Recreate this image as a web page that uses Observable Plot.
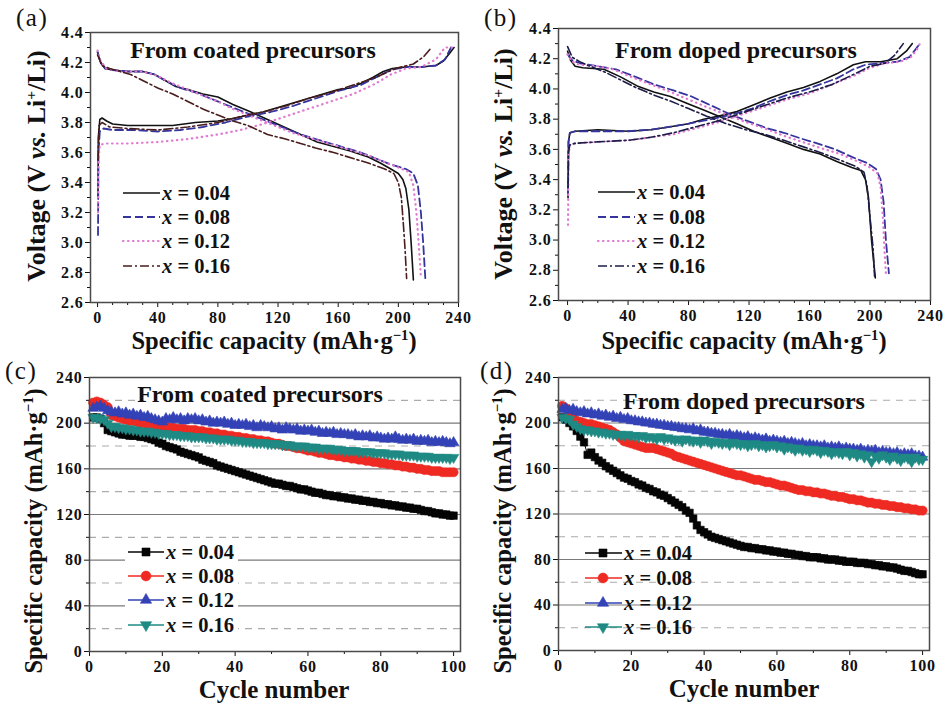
<!DOCTYPE html>
<html><head><meta charset="utf-8">
<script src="https://cdn.jsdelivr.net/npm/d3@7"></script>
<script src="https://cdn.jsdelivr.net/npm/@observablehq/plot@0.6"></script>
<style>
html,body{margin:0;padding:0;background:#fff;}
#fig{position:relative;width:944px;height:705px;overflow:hidden;background:#fff;}
.panel{position:absolute;}
</style></head><body><div id="fig"></div>
<script>
// ---------------- data ----------------
const seriesNames = ["0.04", "0.08", "0.12", "0.16"];

// Panel (a): coated precursors, [capacity, voltage]
const a04Charge = [[0.3,3.30],[0.5,3.70],[1.5,3.82],[3,3.83],[6,3.81],[10,3.79],[20,3.78],[35,3.78],[50,3.78],[65,3.80],[80,3.81],[92,3.83],[100,3.85],[110,3.87],[120,3.90],[130,3.93],[140,3.96],[150,3.99],[160,4.02],[168,4.03],[175,4.06],[183,4.10],[190,4.14],[196,4.16],[205,4.17],[215,4.17],[225,4.18],[230,4.21],[234,4.26],[237,4.30]];
const a08Charge = [[0.3,3.05],[0.6,3.60],[1.5,3.74],[4,3.76],[10,3.75],[25,3.75],[40,3.74],[55,3.75],[70,3.77],[85,3.80],[100,3.84],[115,3.87],[130,3.91],[145,3.96],[160,4.01],[175,4.05],[185,4.10],[195,4.15],[205,4.17],[215,4.17],[225,4.18],[231,4.22],[235,4.30]];
const a12Charge = [[0.3,3.20],[0.6,3.55],[1.5,3.65],[5,3.66],[20,3.66],[40,3.67],[60,3.69],[80,3.72],[95,3.75],[110,3.79],[125,3.84],[140,3.89],[155,3.94],[170,3.99],[185,4.06],[195,4.12],[205,4.16],[215,4.17],[225,4.22],[231,4.30],[236,4.30]];
const a16Charge = [[0.3,3.55],[1,3.78],[3,3.80],[8,3.77],[20,3.76],[40,3.75],[60,3.77],[80,3.80],[95,3.84],[110,3.87],[125,3.91],[140,3.96],[155,4.00],[170,4.05],[185,4.10],[198,4.16],[210,4.19],[217,4.24],[222,4.30]];
const a04Discharge = [[0,4.27],[2,4.20],[5,4.16],[10,4.15],[20,4.14],[30,4.14],[38,4.12],[45,4.08],[52,4.04],[60,4.02],[70,3.99],[80,3.97],[90,3.92],[102,3.87],[113,3.82],[124,3.77],[135,3.72],[146,3.67],[157,3.64],[168,3.61],[180,3.57],[188,3.53],[195,3.49],[200,3.46],[203,3.42],[205,3.36],[207,3.22],[208.5,3.00],[210,2.75]];
const a08Discharge = [[0,4.27],[2,4.20],[5,4.16],[10,4.15],[20,4.14],[30,4.14],[38,4.12],[45,4.08],[55,4.03],[65,4.00],[75,3.96],[85,3.92],[95,3.88],[105,3.84],[115,3.80],[125,3.76],[135,3.72],[145,3.69],[155,3.66],[165,3.63],[175,3.60],[185,3.56],[195,3.52],[205,3.49],[210,3.46],[213,3.38],[215,3.20],[216.5,3.00],[218,2.75]];
const a12Discharge = [[0,4.28],[2,4.21],[6,4.16],[15,4.14],[30,4.14],[40,4.11],[50,4.06],[60,4.02],[70,3.98],[80,3.94],[90,3.89],[100,3.85],[110,3.81],[120,3.77],[130,3.73],[140,3.70],[150,3.67],[160,3.64],[170,3.61],[180,3.58],[190,3.54],[200,3.50],[207,3.47],[210,3.38],[212,3.20],[213.5,3.00],[215,2.77]];
const a16Discharge = [[0,4.25],[3,4.18],[8,4.16],[15,4.14],[22,4.12],[30,4.08],[40,4.03],[50,3.99],[60,3.94],[70,3.89],[80,3.85],[90,3.81],[100,3.78],[113,3.72],[125,3.69],[135,3.66],[145,3.63],[157,3.60],[170,3.56],[180,3.53],[191,3.49],[197,3.46],[200,3.40],[202,3.30],[203.5,3.10],[204.5,2.95],[205.5,2.76]];

// Panel (b): doped precursors, [capacity, voltage]
const b04Charge = [[0.3,3.28],[0.6,3.65],[1.5,3.71],[5,3.72],[20,3.73],[40,3.72],[55,3.73],[68,3.75],[80,3.77],[90,3.80],[100,3.82],[112,3.85],[122,3.89],[134,3.94],[145,3.98],[156,4.01],[167,4.05],[178,4.10],[189,4.16],[197,4.18],[207,4.18],[218,4.20],[224,4.25],[228,4.30]];
const b08Charge = [[0.3,3.30],[0.6,3.65],[1.5,3.71],[5,3.72],[20,3.72],[40,3.72],[55,3.73],[68,3.75],[80,3.77],[90,3.79],[100,3.81],[112,3.84],[122,3.87],[134,3.92],[145,3.96],[156,3.99],[167,4.03],[178,4.07],[189,4.13],[197,4.16],[207,4.17],[218,4.18],[226,4.21],[230,4.26],[233,4.30]];
const b12Charge = [[0.3,3.10],[0.6,3.55],[1.5,3.63],[5,3.64],[20,3.65],[40,3.66],[55,3.68],[70,3.70],[85,3.74],[100,3.78],[115,3.83],[130,3.88],[145,3.93],[160,3.97],[175,4.03],[190,4.09],[200,4.14],[210,4.17],[220,4.18],[227,4.21],[231,4.26],[233,4.30]];
const b16Charge = [[0.3,3.35],[0.6,3.58],[1.5,3.63],[5,3.64],[20,3.65],[40,3.66],[55,3.68],[70,3.71],[85,3.75],[100,3.79],[115,3.84],[130,3.89],[145,3.94],[160,3.98],[175,4.03],[190,4.10],[200,4.15],[210,4.17],[216,4.22],[222,4.30]];
const b04Discharge = [[0,4.25],[2,4.19],[5,4.15],[10,4.14],[24,4.13],[35,4.08],[46,4.02],[57,3.98],[68,3.95],[80,3.90],[90,3.86],[100,3.82],[112,3.77],[123,3.72],[134,3.68],[145,3.64],[156,3.60],[167,3.57],[178,3.52],[188,3.48],[194,3.46],[197,3.40],[199,3.28],[201,3.00],[203.5,2.75]];
const b08Discharge = [[0,4.23],[3,4.19],[8,4.17],[20,4.15],[32,4.13],[45,4.08],[57,4.03],[70,3.99],[82,3.95],[95,3.89],[108,3.83],[121,3.78],[132,3.74],[143,3.71],[155,3.67],[165,3.64],[177,3.60],[188,3.55],[198,3.51],[204,3.47],[207,3.40],[209,3.25],[210.5,3.00],[212.5,2.78]];
const b12Discharge = [[0,4.23],[3,4.18],[8,4.16],[20,4.15],[30,4.13],[42,4.08],[55,4.03],[68,3.98],[80,3.93],[92,3.88],[105,3.83],[118,3.78],[130,3.74],[143,3.69],[155,3.65],[167,3.61],[180,3.57],[192,3.52],[200,3.48],[205,3.44],[207,3.35],[208.5,3.15],[209.5,2.95],[210.5,2.78]];
const b16Discharge = [[0,4.28],[3,4.21],[8,4.18],[15,4.15],[25,4.11],[35,4.06],[45,4.01],[57,3.96],[68,3.92],[80,3.87],[92,3.82],[105,3.77],[118,3.73],[130,3.70],[143,3.66],[155,3.62],[167,3.58],[180,3.53],[190,3.49],[196,3.45],[198,3.36],[200,3.15],[202,2.95],[203,2.76]];

// Panels (c), (d): capacity per cycle 1..100
const c04 = [205,205,204,200,194,193,192,191,190,190,189,189,189,188,188,187,186,185,183,182,180,179,178,177,175,174,173,172,171,170,168,167,166,165,163,162,161,160,159,158,157,156,155,154,153,152,151,150,149,148,147,147,146,145,145,144,143,142,142,141,140,139,139,138,137,137,136,136,135,135,134,134,133,133,132,132,131,131,130,130,129,129,128,128,127,127,126,126,125,125,124,123,123,122,121,121,120,120,119,119];
const c08 = [218,219,218,216,214,207,206,205,204,203,202,202,201,200,200,199,199,198,198,197,197,196,196,195,195,195,194,194,194,193,193,192,192,191,191,190,190,189,189,188,188,187,187,186,186,185,185,184,184,183,182,182,181,180,180,179,178,178,177,176,176,175,174,174,173,172,172,171,171,170,170,169,169,168,168,167,167,166,166,165,165,164,164,163,163,162,162,161,161,160,160,159,159,158,158,158,157,157,157,157];
const c12 = [213,214,215,213,211,210,209,210,208,209,207,208,206,207,205,206,204,203,202,201,204,203,205,203,204,202,204,203,204,202,203,201,202,200,201,200,201,199,200,198,199,198,199,197,198,196,198,197,196,197,195,196,194,196,195,194,195,193,194,193,194,192,193,191,192,191,192,190,191,190,190,189,190,188,189,188,189,187,188,187,186,187,186,188,186,185,186,185,186,184,185,184,185,183,184,183,184,183,182,183];
const c16 = [205,205,204,203,200,197,197,196,196,195,195,194,194,193,193,193,192,192,191,191,191,190,190,190,189,189,189,188,188,188,188,187,187,187,186,186,186,186,185,185,185,184,184,184,183,183,183,183,182,182,182,182,181,181,181,180,180,180,180,179,179,179,178,178,178,178,177,177,177,176,176,176,176,175,175,175,175,174,174,174,174,173,173,173,173,172,172,172,172,171,171,171,171,170,170,170,170,170,169,170];
const d04 = [205,203,200,197,193,188,183,172,174,170,167,165,162,160,158,156,154,152,151,149,148,146,145,143,142,140,139,137,136,134,132,130,128,126,123,121,116,110,106,104,102,100,99,98,97,96,95,94,93,92,91,91,90,90,89,89,88,88,87,87,86,86,85,85,84,84,83,83,82,82,82,81,81,80,80,80,79,79,78,78,78,77,77,77,76,76,75,75,74,74,73,73,72,71,70,70,69,68,67,67];
const d08 = [215,213,208,204,202,201,200,199,199,198,197,196,195,194,192,190,187,184,183,182,181,180,179,178,178,178,177,176,175,174,173,171,170,169,168,167,166,165,164,163,162,161,160,159,158,157,156,155,154,154,153,152,151,150,150,149,148,148,147,146,145,145,144,143,142,141,141,140,140,139,139,138,138,137,136,136,135,135,134,133,133,132,132,131,130,130,129,129,128,128,127,127,126,126,125,125,124,124,123,123];
const d12 = [212,213,211,212,210,209,210,208,209,207,208,206,207,205,206,204,205,203,204,202,202,201,201,200,200,199,199,198,198,197,197,196,196,195,195,194,195,193,194,192,192,191,191,190,190,189,190,188,189,188,187,188,186,187,186,185,186,184,185,184,183,184,182,183,182,181,182,180,181,180,180,179,180,178,179,178,179,177,178,177,177,176,177,175,176,175,176,174,175,174,174,173,174,172,173,172,173,171,171,170];
const d16 = [205,204,203,199,197,195,194,194,193,193,192,192,191,191,190,190,190,189,190,189,189,188,189,187,188,187,186,188,186,187,186,185,186,184,186,185,184,185,183,185,184,182,184,183,182,183,181,183,182,181,182,180,181,182,180,181,179,180,181,179,180,177,179,178,176,178,176,177,175,177,176,174,176,175,173,175,174,173,175,172,174,171,173,170,172,166,171,169,172,170,168,171,169,167,170,169,166,170,168,168];

// axes ticks
const aXTicks = [0, 40, 80, 120, 160, 200, 240];
const aXMinor = [10, 20, 30, 50, 60, 70, 90, 100, 110, 130, 140, 150, 170, 180, 190, 210, 220, 230];
const aYTicks = [2.6, 2.8, 3.0, 3.2, 3.4, 3.6, 3.8, 4.0, 4.2, 4.4];
const aYMinor = [2.7, 2.9, 3.1, 3.3, 3.5, 3.7, 3.9, 4.1, 4.3];
const cXTicks = [0, 20, 40, 60, 80, 100];
const cXMinor = [10, 30, 50, 70, 90];
const cYTicks = [0, 40, 80, 120, 160, 200, 240];
const cYMinor = [20, 60, 100, 140, 180, 220];
const gridSolid = [40, 80, 120, 160, 200];
const gridDashed = [20, 60, 100, 140, 180, 220];

const cycles = d3.range(1, 101);

// ---------------- styles ----------------
const SERIF = "Liberation Serif, DejaVu Serif, serif";
const fig = d3.select("#fig");

const lineStylesA = [
  {stroke: "#111", strokeWidth: 1.6},
  {stroke: "#34349c", strokeWidth: 1.8, strokeDasharray: "8,4"},
  {stroke: "#e07ad0", strokeWidth: 2.2, strokeDasharray: "0.5,4.5", strokeLinecap: "round"},
  {stroke: "#4a1c1c", strokeWidth: 1.6, strokeDasharray: "9,3,2,3"}
];
const lineStylesB = lineStylesA.map((s, i) => i === 3 ? {...s, stroke: "#1c1c48"} : s);

const cycColors = ["#050505", "#ee2a22", "#3342b6", "#1f8a84"];
const invTriangle = {
  draw(context, size) {
    const s3 = Math.sqrt(3);
    const y = -Math.sqrt(size / (s3 * 3));
    context.moveTo(0, -y * 2);
    context.lineTo(-s3 * y, y);
    context.lineTo(s3 * y, y);
    context.closePath();
  }
};
const cycSymbols = [d3.symbolSquare, d3.symbolCircle, d3.symbolTriangle, invTriangle];
const cycR = [4.2, 4.6, 3.9, 3.9];

function richText(g, x, y, parts, size, anchor, rotate, weight = "bold") {
  const t = g.append("text")
    .attr("transform", `translate(${x},${y}) rotate(${rotate || 0})`)
    .attr("text-anchor", anchor)
    .attr("font-family", SERIF)
    .attr("font-weight", weight)
    .attr("font-size", size)
    .attr("letter-spacing", "0")
    .attr("fill", "#111");
  let sup = false;
  for (const p of parts) {
    const ts = t.append("tspan").text(p.t);
    if (p.italic) ts.attr("font-style", "italic");
    if (p.sup) {
      ts.attr("font-size", size * 0.6);
      if (!sup) ts.attr("dy", -size * 0.36);
      sup = true;
    } else {
      if (sup) ts.attr("dy", size * 0.36);
      sup = false;
    }
  }
  return t;
}

function panel(cfg) {
  const [fl, fr, ft, fb] = cfg.frame;
  const svg = Plot.plot({
    width: cfg.width, height: cfg.height,
    marginLeft: fl, marginRight: cfg.width - fr, marginTop: ft, marginBottom: cfg.height - fb,
    x: {domain: cfg.xDomain, axis: null},
    y: {domain: cfg.yDomain, axis: null},
    style: {fontFamily: SERIF, fontSize: "16px", fontWeight: "bold", color: "#111",
            background: "transparent", overflow: "visible", letterSpacing: "0.8px"},
    marks: [
      ...cfg.marks,
      Plot.axisX({ticks: cfg.xMinor, tickSize: 3, tickFormat: () => "", label: null}),
      Plot.axisX({ticks: cfg.xTicks, tickSize: 5, tickPadding: 4, tickFormat: d3.format("d"), label: null}),
      Plot.axisY({ticks: cfg.yMinor, tickSize: 3, tickFormat: () => "", label: null}),
      Plot.axisY({ticks: cfg.yTicks, tickSize: 5, tickPadding: 2, tickFormat: cfg.yFormat, label: null}),
      Plot.frame({stroke: "#4a4a4a", strokeWidth: 1.5})
    ]
  });
  const div = fig.append("div").attr("class", "panel")
    .style("left", cfg.left + "px").style("top", cfg.top + "px")
    .style("width", cfg.width + "px").style("height", cfg.height + "px");
  div.node().appendChild(svg);
  return d3.select(svg);
}

// ---------------- voltage panels (a), (b) ----------------
function voltageMarks(charges, discharges, styles) {
  const m = [];
  for (let i = 0; i < 4; i++) {
    m.push(Plot.line(charges[i], {x: d => d[0], y: d => d[1], ...styles[i]}));
    m.push(Plot.line(discharges[i], {x: d => d[0], y: d => d[1], ...styles[i]}));
  }
  return m;
}

function lineLegend(g, x0, x1, xt, rows, styles) {
  rows.forEach((ry, i) => {
    const s = styles[i];
    g.append("line").attr("x1", x0).attr("x2", x1).attr("y1", ry).attr("y2", ry)
      .attr("stroke", s.stroke).attr("stroke-width", s.strokeWidth)
      .attr("stroke-dasharray", s.strokeDasharray || null)
      .attr("stroke-linecap", s.strokeLinecap || null);
    richText(g, xt, ry + 7, [{t: "x", italic: true}, {t: " = " + seriesNames[i]}], 20.5, "start", 0);
  });
}

const yLabelV = [{t: "Voltage (V "}, {t: "vs.", italic: true}, {t: " Li"}, {t: "+", sup: true}, {t: "/Li)"}];
const xLabelCap = [{t: "Specific capacity (mAh·g"}, {t: "−1", sup: true}, {t: ")"}];
const xLabelCyc = [{t: "Cycle number"}];
const TITLE = 24, AXT = 24.5;

// (a)
{
  const svg = panel({
    left: 0, top: 0, width: 470, height: 352, frame: [90, 458, 32, 302],
    xDomain: [-4.7, 240], yDomain: [2.6, 4.4],
    xTicks: aXTicks, xMinor: aXMinor, yTicks: aYTicks, yMinor: aYMinor, yFormat: d3.format(".1f"),
    marks: voltageMarks([a04Charge, a08Charge, a12Charge, a16Charge], [a04Discharge, a08Discharge, a12Discharge, a16Discharge], lineStylesA)
  });
  const g = svg.append("g");
  richText(g, 253, 58, [{t: "From coated precursors"}], TITLE, "middle", 0);
  lineLegend(g, 123, 160, 162, [193, 217, 241, 266], lineStylesA);
  richText(g, 45, 166, yLabelV, 26, "middle", -90);
  richText(g, 274, 349, xLabelCap, AXT, "middle", 0);
  richText(g, 16, 26, [{t: "(a)"}], 25, "start", 0, "normal").attr("letter-spacing", "1.5px");
}
// (b)
{
  const svg = panel({
    left: 470, top: 0, width: 474, height: 352, frame: [88, 460, 28, 300],
    xDomain: [-6, 240], yDomain: [2.6, 4.4],
    xTicks: aXTicks, xMinor: aXMinor, yTicks: aYTicks, yMinor: aYMinor, yFormat: d3.format(".1f"),
    marks: voltageMarks([b04Charge, b08Charge, b12Charge, b16Charge], [b04Discharge, b08Discharge, b12Discharge, b16Discharge], lineStylesB)
  });
  const g = svg.append("g");
  richText(g, 266, 58, [{t: "From doped precursors"}], TITLE, "middle", 0);
  lineLegend(g, 128, 165, 167, [192, 217, 241, 266], lineStylesB);
  richText(g, 42, 164, yLabelV, 26, "middle", -90);
  richText(g, 274, 349, xLabelCap, AXT, "middle", 0);
  richText(g, 14, 26, [{t: "(b)"}], 25, "start", 0, "normal").attr("letter-spacing", "1.5px");
}

// ---------------- cycling panels (c), (d) ----------------
function cycleMarks(sets) {
  const m = [
    Plot.ruleY(gridDashed, {stroke: "#ababab", strokeWidth: 1.2, strokeDasharray: "7,6"}),
    Plot.ruleY(gridSolid, {stroke: "#7a7a7a", strokeWidth: 1.2})
  ];
  sets.forEach((vals, i) => {
    const rows = vals.map((v, k) => ({c: cycles[k], v}));
    m.push(Plot.line(rows, {x: "c", y: "v", stroke: cycColors[i], strokeWidth: 1}));
    m.push(Plot.dot(rows, {x: "c", y: "v", symbol: cycSymbols[i], r: cycR[i], fill: cycColors[i], stroke: cycColors[i], strokeWidth: 0.6}));
  });
  return m;
}

function markerLegend(g, x0, x1, xm, xt, rows) {
  rows.forEach((ry, i) => {
    g.append("line").attr("x1", x0).attr("x2", x1).attr("y1", ry).attr("y2", ry)
      .attr("stroke", cycColors[i]).attr("stroke-width", 1.6);
    g.append("path").attr("transform", `translate(${xm},${ry})`)
      .attr("d", d3.symbol(cycSymbols[i], Math.PI * cycR[i] * cycR[i] * 1.15)())
      .attr("fill", cycColors[i]).attr("stroke", cycColors[i]).attr("stroke-width", 0.6);
    richText(g, xt, ry + 7, [{t: "x", italic: true}, {t: " = " + seriesNames[i]}], 20.5, "start", 0);
  });
}

// (c)
{
  const svg = panel({
    left: 0, top: 352, width: 470, height: 353, frame: [89, 460, 25, 299],
    xDomain: [0, 101.9], yDomain: [0, 240],
    xTicks: cXTicks, xMinor: cXMinor, yTicks: cYTicks, yMinor: cYMinor, yFormat: d3.format("d"),
    marks: cycleMarks([c04, c08, c12, c16])
  });
  const g = svg.append("g");
  g.append("rect").attr("x", 136).attr("y", 31).attr("width", 250).attr("height", 25).attr("fill", "#fff");
  richText(g, 260, 50, [{t: "From coated precursors"}], TITLE, "middle", 0);
  g.append("rect").attr("x", 125).attr("y", 188).attr("width", 113).attr("height", 97).attr("fill", "#fff");
  markerLegend(g, 128, 164, 146, 166, [200, 224, 248, 273]);
  richText(g, 42, 179, xLabelCap, AXT, "middle", -90);
  richText(g, 274, 346, xLabelCyc, AXT + 0.5, "middle", 0);
  richText(g, 5, 27, [{t: "(c)"}], 25, "start", 0, "normal").attr("letter-spacing", "1.5px");
}
// (d)
{
  const svg = panel({
    left: 470, top: 352, width: 474, height: 353, frame: [88, 459, 25, 298],
    xDomain: [0, 101.9], yDomain: [0, 240],
    xTicks: cXTicks, xMinor: cXMinor, yTicks: cYTicks, yMinor: cYMinor, yFormat: d3.format("d"),
    marks: cycleMarks([d04, d08, d12, d16])
  });
  const g = svg.append("g");
  richText(g, 274, 57, [{t: "From doped precursors"}], TITLE, "middle", 0);
  markerLegend(g, 115, 152, 133, 154, [201, 226, 251, 275]);
  richText(g, 41, 179, xLabelCap, AXT, "middle", -90);
  richText(g, 274, 345, xLabelCyc, AXT + 0.5, "middle", 0);
  richText(g, 10, 27, [{t: "(d)"}], 25, "start", 0, "normal").attr("letter-spacing", "1.5px");
}
</script></body></html>
